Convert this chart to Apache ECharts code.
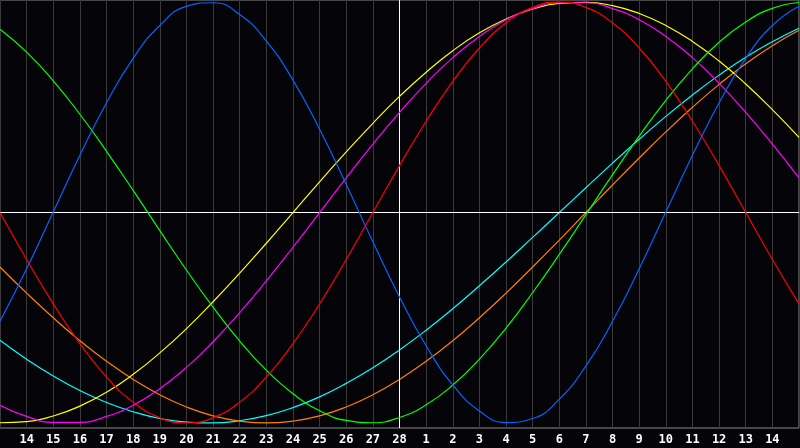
<!DOCTYPE html>
<html>
<head>
<meta charset="utf-8">
<script src="https://cdn.jsdelivr.net/npm/echarts@6/dist/echarts.min.js"></script>
<style>
html,body{margin:0;padding:0;background:#050409;}
#chart{width:800px;height:448px;}
</style>
</head>
<body>
<div id="chart"></div>
<script>
// Day positions (0 = Feb 13 ... 30 = Mar 15)
const dayIndex = [0,1,2,3,4,5,6,7,8,9,10,11,12,13,14,15,16,17,18,19,20,21,22,23,24,25,26,27,28,29,30];
const dayLabels = ['13','14','15','16','17','18','19','20','21','22','23','24','25','26','27','28','1','2','3','4','5','6','7','8','9','10','11','12','13','14','15'];
const todayIndex = 15;

// Values (-100 .. 100)
const physical = [-51.7,-26.7,0.3,27.2,52.2,73.3,88.9,98.0,99.7,94.1,81.5,62.9,39.6,13.3,-13.9,-40.1,-63.3,-81.9,-94.3,-99.8,-97.9,-88.7,-72.9,-51.7,-26.7,0.3,27.2,52.2,73.3,88.9,98.0];
const emotional = [0,-22.3,-43.4,-62.3,-78.2,-90.1,-97.5,-100,-97.5,-90.1,-78.2,-62.3,-43.4,-22.3,0,22.3,43.4,62.3,78.2,90.1,97.5,100,97.5,90.1,78.2,62.3,43.4,22.3,0,-22.3,-43.4];
const intellectual = [87.1,76.2,62.6,46.7,29.1,10.5,-8.6,-27.3,-45.0,-61.1,-74.9,-86.1,-94.2,-98.8,-99.9,-97.4,-91.4,-82.0,-69.7,-54.9,-38.0,-19.9,-1.0,18.0,36.3,53.3,68.3,80.9,90.6,97.0,99.8];
const intuitive = [-91.6,-96.9,-99.7,-99.7,-96.9,-91.6,-83.7,-73.6,-61.4,-47.6,-32.5,-16.5,0,16.5,32.5,47.6,61.4,73.6,83.7,91.6,96.9,99.7,99.7,96.9,91.6,83.7,73.6,61.4,47.6,32.5,16.5];
const aesthetic = [-99.9,-99.4,-96.7,-92.0,-85.4,-76.9,-66.7,-55.2,-42.4,-28.8,-14.6,0,14.6,28.8,42.4,55.2,66.7,76.9,85.4,92.0,96.7,99.4,99.9,98.3,94.6,88.9,81.3,72.0,61.1,48.9,35.7];
const awareness = [-25.9,-38.3,-50.0,-60.9,-70.7,-79.3,-86.6,-92.4,-96.6,-99.1,-100,-99.1,-96.6,-92.4,-86.6,-79.3,-70.7,-60.9,-50.0,-38.3,-25.9,-13.1,0,13.1,25.9,38.3,50.0,60.9,70.7,79.3,86.6];
const spiritual = [-60.7,-69.7,-77.7,-84.6,-90.3,-94.7,-97.9,-99.6,-100,-98.9,-96.5,-92.7,-87.6,-81.2,-73.8,-65.3,-55.9,-45.7,-34.8,-23.5,-11.8,0,11.8,23.5,34.8,45.7,55.9,65.3,73.8,81.2,87.6];

const seriesDefs = [
  {name:'Spiritual', values: spiritual, color:'#00ffff'},
  {name:'Awareness', values: awareness, color:'#ff8000'},
  {name:'Aesthetic', values: aesthetic, color:'#ffff00'},
  {name:'Intuitive', values: intuitive, color:'#ff00ff'},
  {name:'Intellectual', values: intellectual, color:'#00ff00'},
  {name:'Emotional', values: emotional, color:'#ff0000'},
  {name:'Physical', values: physical, color:'#0066ff'}
];

const chart = echarts.init(document.getElementById('chart'));
const series = seriesDefs.map(function(s, i){
  return {
    name: s.name,
    type: 'line',
    smooth: true,
    symbol: 'none',
    silent: true,
    z: 3 + i,
    lineStyle: {color: s.color, width: 1.2},
    data: dayIndex.map(function(d, k){ return [d, s.values[k]]; })
  };
});
series.push({
  type: 'line',
  data: [],
  silent: true,
  z: 2,
  markLine: {
    silent: true,
    symbol: ['none','none'],
    label: {show:false},
    lineStyle: {color:'#ffffff', width:1, type:'solid'},
    data: [{yAxis: 0}, {xAxis: todayIndex}]
  }
});

chart.setOption({
  backgroundColor: '#050409',
  animation: false,
  grid: {left: 0, right: 1, top: 0, bottom: 20, show: true, borderColor: '#8a8a8a', borderWidth: 1, backgroundColor: 'transparent'},
  xAxis: {
    type: 'value', min: 0, max: 30, interval: 1,
    axisLine: {show: true, lineStyle: {color: '#9a9a9a', width: 1}},
    axisTick: {show: false},
    splitLine: {show: true, lineStyle: {color: '#3a3a3a', width: 1}},
    axisLabel: {
      color: '#ffffff', fontFamily: 'DejaVu Sans Mono', fontWeight: 'bold', fontSize: 12, margin: 6,
      showMinLabel: false, showMaxLabel: false,
      formatter: function(v){ return (v > 0 && v < 30) ? dayLabels[Math.round(v)] : ''; }
    }
  },
  yAxis: {
    type: 'value', min: -102.4, max: 101,
    axisLine: {show: false}, axisTick: {show: false}, axisLabel: {show: false},
    splitLine: {show: false}
  },
  series: series
});
</script>
</body>
</html>
